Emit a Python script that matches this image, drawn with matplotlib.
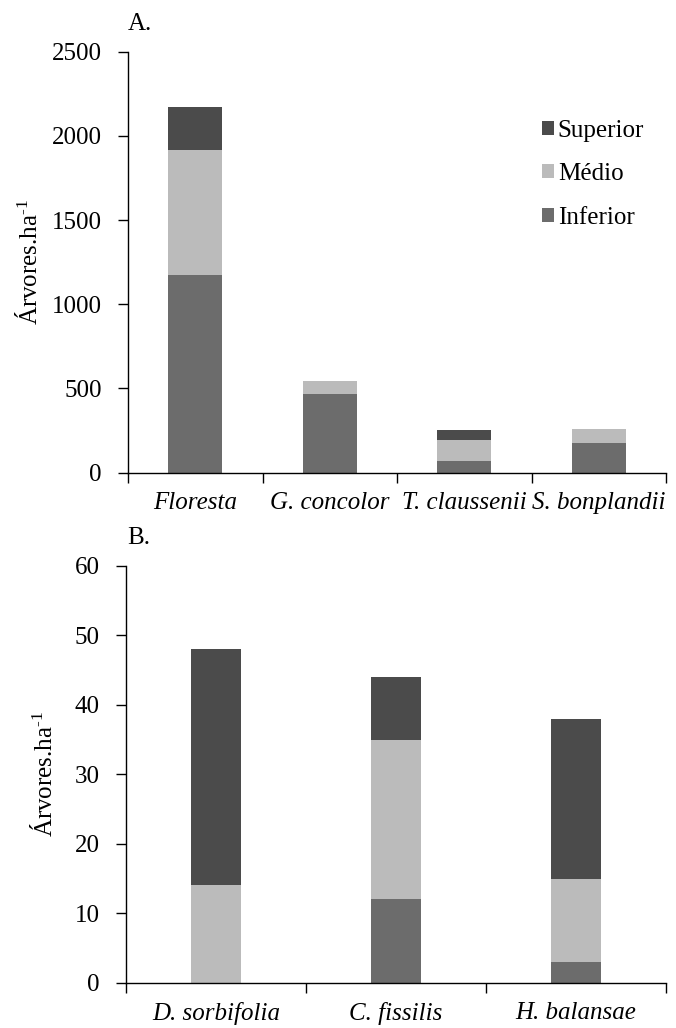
import matplotlib
matplotlib.use("Agg")
import matplotlib.pyplot as plt
import numpy as np

plt.rcParams['font.family'] = ['Liberation Serif', 'DejaVu Serif']
plt.rcParams['mathtext.fontset'] = 'custom'
plt.rcParams['mathtext.rm'] = 'Liberation Serif'
plt.rcParams['mathtext.it'] = 'Liberation Serif:italic'

# ---------------- DATA ----------------
cats_a = ["Floresta", "G. concolor", "T. claussenii", "S. bonplandii"]
inferior_a = [1172, 466, 71, 178]
medio_a = [742, 79, 125, 80]
superior_a = [256, 0, 56, 0]

cats_b = ["D. sorbifolia", "C. fissilis", "H. balansae"]
inferior_b = [0, 12, 3]
medio_b = [14, 23, 12]
superior_b = [34, 9, 23]

layers = ["Inferior", "Médio", "Superior"]
colors = {"Inferior": "#6c6c6c", "Médio": "#bbbbbb", "Superior": "#4b4b4b"}

W, H = 676, 1028
fig = plt.figure(figsize=(W / 100, H / 100), dpi=100)

ax_a = fig.add_axes([128 / W, 1 - 472.7 / H, 538 / W, 421 / H])
ax_b = fig.add_axes([126 / W, 1 - 982.7 / H, 540 / W, 416.7 / H])

FS = 18


def stacked(ax, cats, inf, med, sup, width, ymax, step):
    x = np.arange(len(cats))
    ax.bar(x, inf, width, color=colors["Inferior"], label="Inferior", linewidth=0)
    ax.bar(x, med, width, bottom=inf, color=colors["Médio"], label="Médio", linewidth=0)
    bottom = np.array(inf) + np.array(med)
    ax.bar(x, sup, width, bottom=bottom, color=colors["Superior"], label="Superior", linewidth=0)

    ax.set_xlim(-0.5, len(cats) - 0.5)
    ax.set_ylim(0, ymax)
    ax.set_yticks(np.arange(0, ymax + 1, step))
    ax.set_yticklabels([str(v) for v in np.arange(0, ymax + 1, step)], fontsize=FS)

    # category boundaries as major ticks, names as minor labels
    ax.set_xticks(np.arange(-0.5, len(cats), 1.0))
    ax.set_xticklabels([])
    ax.set_xticks(x, minor=True)
    ax.set_xticklabels(cats, minor=True, fontsize=FS, style="italic")
    ax.tick_params(axis="x", which="minor", length=0, pad=14)
    ax.tick_params(axis="x", which="major", direction="out", length=7, width=1)
    ax.tick_params(axis="y", direction="out", length=7, width=1, pad=12)

    for s in ["top", "right"]:
        ax.spines[s].set_visible(False)
    ax.spines["left"].set_linewidth(1)
    ax.spines["bottom"].set_linewidth(1)
    ax.set_ylabel("Árvores.ha$^{\\text{-1}}$", fontsize=FS)


stacked(ax_a, cats_a, inferior_a, medio_a, superior_a, 0.40, 2500, 500)
stacked(ax_b, cats_b, inferior_b, medio_b, superior_b, 0.28, 60, 10)

ax_a.yaxis.set_label_coords(-0.160, 0.5)
ax_b.yaxis.set_label_coords(-0.128, 0.5)

handles, labels = ax_a.get_legend_handles_labels()
ax_a.legend(handles[::-1], labels[::-1], frameon=False, fontsize=FS,
            loc="upper left", bbox_to_anchor=(529 / W, 1 - 107 / H),
            bbox_transform=fig.transFigure,
            handlelength=0.5, handleheight=0.5, handletextpad=0.15,
            labelspacing=0.86, borderpad=0)

fig.text(128 / W, 1 - 24 / H, "A.", fontsize=FS, va="center", ha="left")
fig.text(127 / W, 1 - 538 / H, "B.", fontsize=FS, va="center", ha="left")

fig.savefig("out.png", dpi=100)
